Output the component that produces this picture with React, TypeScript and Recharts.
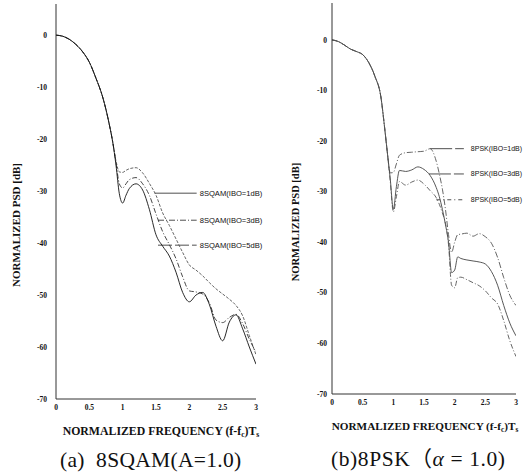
import { LineChart, Line, XAxis, YAxis, ReferenceLine } from "recharts";

const X_TICKS = [0, 0.5, 1, 1.5, 2, 2.5, 3];
const Y_TICKS = [0, -10, -20, -30, -40, -50, -60, -70];

// (a) 8SQAM – main lobe is common to all three curves
const SQAM_MAIN_F = [0, 0.1, 0.2, 0.3, 0.4, 0.5, 0.6, 0.7, 0.8, 0.85];
const SQAM_MAIN_V = [0, -0.2, -0.8, -1.8, -3.2, -5.2, -8.3, -11.9, -17.2, -20.5];
const SQAM_TAIL_F = [0.9, 0.95, 1.0, 1.05, 1.1, 1.2, 1.3, 1.4, 1.5, 1.6, 1.7, 1.8, 1.9, 2.0, 2.1, 2.2, 2.3, 2.4, 2.5, 2.6, 2.7, 2.8, 2.9, 3.0];
const SQAM_IBO1 = [-24.2, -26.3, -26.4, -26, -25.7, -25.5, -26.5, -28.5, -30.8, -34.2, -36.6, -39.2, -41.8, -44.2, -45.2, -46.3, -47.6, -48.8, -49.8, -50.8, -52, -54, -57.8, -61.5];
const SQAM_IBO3 = [-24.5, -28.6, -29.4, -28.6, -27.8, -27.4, -28.6, -30.8, -34.4, -37.8, -40.3, -43, -46.5, -49.2, -49.4, -49.8, -51.5, -54.8, -55.3, -54.3, -53.7, -55.5, -58.5, -61];
const SQAM_IBO5 = [-25, -30.5, -32.3, -30.8, -29.5, -28.6, -29.8, -33.5, -38.4, -40.6, -42.5, -45.6, -49.5, -51.3, -50, -49.5, -51.8, -56, -58.8, -55.2, -53.8, -56.5, -60, -63.3];

// (b) 8PSK
const PSK_MAIN_F = [0, 0.1, 0.2, 0.3, 0.4, 0.5, 0.6, 0.7, 0.8, 0.85, 0.9];
const PSK_MAIN_V = [0, -0.3, -1.0, -1.8, -2.3, -2.9, -4.5, -7.2, -11.5, -16.5, -22];
const PSK_TAIL_F = [0.95, 1.0, 1.05, 1.1, 1.2, 1.3, 1.4, 1.5, 1.6, 1.7, 1.75, 1.8, 1.85, 1.9, 1.95, 2.0, 2.05, 2.1, 2.2, 2.3, 2.4, 2.5, 2.6, 2.7, 2.8, 2.9, 3.0];
const PSK_IBO1 = [-26.3, -26.2, -24.5, -22.8, -22.3, -22.2, -22.1, -22, -21.5, -24, -26.5, -29.5, -33.5, -38.5, -42, -40, -38.5, -38.4, -38.2, -38.8, -38.3, -38.9, -40.2, -43, -47, -50.5, -52.5];
const PSK_IBO3 = [-27.5, -33.5, -29, -25.8, -26, -25.7, -25.1, -25.6, -26.8, -29.2, -31, -33.5, -36.5, -40, -46, -45.5, -42.9, -43.2, -43.5, -43.7, -43.9, -44.3, -45.8, -48.5, -52.5, -56, -58.5];
const PSK_IBO5 = [-28, -34, -31, -28, -28.7, -28.1, -27.7, -28.5, -29.8, -31.2, -32.5, -34.2, -36.3, -40.5, -48.5, -49, -47, -46.9, -47.4, -48, -48.6, -49.6, -51, -52.2, -55.5, -59.5, -62.6];

// leader annotations: [label, from f, to f, level dB]
const SQAM_LEADERS: [string, number, number, number][] = [
  ["8SQAM(IBO=1dB)", 1.48, 2.11, -30.4],
  ["8SQAM(IBO=3dB)", 1.53, 2.11, -35.6],
  ["8SQAM(IBO=5dB)", 1.53, 2.11, -40.4],
];
const PSK_LEADERS: [string, number, number, number][] = [
  ["8PSK(IBO=1dB)", 1.6, 2.15, -21.5],
  ["8PSK(IBO=3dB)", 1.58, 2.15, -26.5],
  ["8PSK(IBO=5dB)", 1.7, 2.15, -31.6],
];

function buildRows(mainF: number[], mainV: number[], tailF: number[], a: number[], b: number[], c: number[]) {
  return [
    ...mainF.map((f, i) => ({ f, ibo1: mainV[i], ibo3: mainV[i], ibo5: mainV[i] })),
    ...tailF.map((f, i) => ({ f, ibo1: a[i], ibo3: b[i], ibo5: c[i] })),
  ];
}

const sqamRows = buildRows(SQAM_MAIN_F, SQAM_MAIN_V, SQAM_TAIL_F, SQAM_IBO1, SQAM_IBO3, SQAM_IBO5);
const pskRows = buildRows(PSK_MAIN_F, PSK_MAIN_V, PSK_TAIL_F, PSK_IBO1, PSK_IBO3, PSK_IBO5);

const tickStyle = { fontSize: 7.5, fontFamily: "Liberation Serif", fontWeight: 700, fill: "#111" };

function Panel({ rows, leaders, top, margin, yTickMargin, labelSize, labelOffset, styles }: any) {
  return (
    <LineChart width={264} height={472} data={rows} margin={margin}>
      <XAxis
        dataKey="f"
        type="number"
        domain={[0, 3]}
        ticks={X_TICKS}
        allowDataOverflow
        height={30}
        tickSize={0}
        tickMargin={6}
        stroke="#333"
        tick={tickStyle}
      />
      <YAxis
        type="number"
        domain={[-70, top]}
        ticks={Y_TICKS}
        allowDataOverflow
        width={30}
        tickSize={0}
        tickMargin={yTickMargin}
        stroke="#333"
        tick={tickStyle}
      />
      {leaders.map(([name, f0, f1, db]: [string, number, number, number], i: number) => (
        <ReferenceLine
          key={name}
          segment={[{ x: f0, y: db }, { x: f1, y: db }]}
          stroke="#222"
          strokeWidth={0.8}
          strokeDasharray={styles[i].lead}
          ifOverflow="visible"
          label={{ value: name, position: "right", offset: labelOffset, fontSize: labelSize, fontFamily: "Liberation Sans", fill: "#111" }}
        />
      ))}
      {["ibo1", "ibo3", "ibo5"].map((k, i) => (
        <Line
          key={k}
          dataKey={k}
          type="monotone"
          dot={false}
          stroke={styles[i].color}
          strokeWidth={0.9}
          strokeDasharray={styles[i].dash}
          isAnimationActive={false}
        />
      ))}
    </LineChart>
  );
}

const SQAM_STYLES = [
  { color: "#555", dash: "3 1.5", lead: undefined },
  { color: "#333", dash: "5 2 1 2", lead: "6 2 1 2" },
  { color: "#111", dash: undefined, lead: "14 3" },
];
const PSK_STYLES = [
  { color: "#555", dash: "6 2 1 2", lead: "22 3" },
  { color: "#444", dash: undefined, lead: "22 3" },
  { color: "#555", dash: "5 2 1 2", lead: "4 3 1 3" },
];

const serif = "'Liberation Serif', 'Times New Roman', serif";

function XTitle({ x, y, size }: { x: number; y: number; size: number }) {
  return (
    <text x={x} y={y} textAnchor="middle" fontFamily={serif} fontWeight={700} fontSize={size} fill="#111">
      NORMALIZED FREQUENCY (f-f
      <tspan fontSize={size * 0.65} dy={2}>c</tspan>
      <tspan dy={-2}>)T</tspan>
      <tspan fontSize={size * 0.65} dy={2}>s</tspan>
    </text>
  );
}

export default function App() {
  return (
    <div style={{ position: "absolute", left: 0, top: 0, width: 528, height: 472, background: "#fff" }}>
      <div style={{ position: "absolute", left: 0, top: 0 }}>
        <Panel
          rows={sqamRows}
          leaders={SQAM_LEADERS}
          top={6}
          margin={{ top: 4, right: 8, bottom: 43, left: 26 }}
          yTickMargin={9}
          labelSize={7.6}
          labelOffset={3}
          styles={SQAM_STYLES}
        />
      </div>
      <div style={{ position: "absolute", left: 264, top: 0 }}>
        <Panel
          rows={pskRows}
          leaders={PSK_LEADERS}
          top={7.3}
          margin={{ top: 3, right: 12, bottom: 48, left: 38 }}
          yTickMargin={5}
          labelSize={7}
          labelOffset={7}
          styles={PSK_STYLES}
        />
      </div>
      <svg width={528} height={472} style={{ position: "absolute", left: 0, top: 0, pointerEvents: "none" }}>
        <text transform="translate(20,225) rotate(-90)" textAnchor="middle" fontFamily={serif} fontWeight={700} fontSize={11} fill="#111">
          NORMALIZED PSD [dB]
        </text>
        <text transform="translate(299,222) rotate(-90)" textAnchor="middle" fontFamily={serif} fontWeight={700} fontSize={10.5} fill="#111">
          NORMALIZED PSD [dB]
        </text>
        <XTitle x={161} y={435} size={11.8} />
        <XTitle x={425} y={430} size={11.2} />
        <text x={60} y={467} fontFamily={serif} fontSize={21.5} letterSpacing={0.3} fill="#111" style={{ whiteSpace: "pre" }}>
          {"(a)  8SQAM(A=1.0)"}
        </text>
        <text x={331} y={466} fontFamily={serif} fontSize={21.5} letterSpacing={0.6} fill="#111" style={{ whiteSpace: "pre" }}>
          (b)8PSK<tspan fontFamily="'Noto Sans CJK SC'">（</tspan>
          <tspan fontStyle="italic">α</tspan>
          {" = 1.0)"}
        </text>
      </svg>
    </div>
  );
}
